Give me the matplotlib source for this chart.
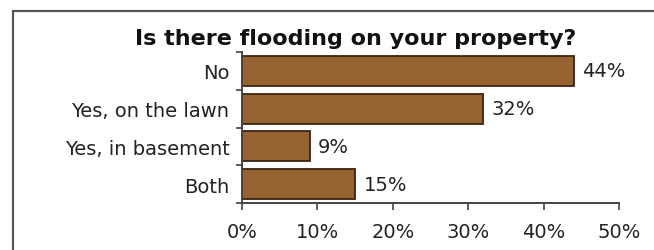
#!/usr/bin/env python3
"""Horizontal bar chart: Is there flooding on your property?"""

import matplotlib

matplotlib.use("Agg")
import matplotlib.pyplot as plt
from matplotlib.patches import Rectangle

TITLE = "Is there flooding on your property?"
CATEGORIES = ["No", "Yes, on the lawn", "Yes, in basement", "Both"]
PERCENTS = [44, 32, 9, 15]
XTICKS = [0, 10, 20, 30, 40, 50]

BAR_COLOR = "#96622F"
EDGE_COLOR = "#3A2414"
TEXT_COLOR = "#222222"
LABEL_SIZE = 14

W, H = 654, 251


def main() -> None:
    plt.rcParams.update({"font.family": "DejaVu Sans", "font.size": 12})
    fig = plt.figure(figsize=(W / 100, H / 100), dpi=100)
    fig.patch.set_facecolor("white")

    # outer frame, cropped at right and bottom edges
    fig.add_artist(
        Rectangle((13 / W, -0.1), 1.2, 1.1 - 12 / H, transform=fig.transFigure,
                  fill=False, edgecolor="#555555", linewidth=1.6)
    )

    ax = fig.add_axes([242 / W, 1 - 204 / H, (619 - 242) / W, (204 - 53) / H])
    y = list(range(len(CATEGORIES)))
    bars = ax.barh(y, PERCENTS, height=0.8, color=BAR_COLOR,
                   edgecolor=EDGE_COLOR, linewidth=1.3)

    ax.set_xlim(0, 50)
    ax.set_ylim(len(CATEGORIES) - 0.5, -0.5)

    ax.set_yticks(y)
    ax.set_yticklabels(CATEGORIES)
    ax.set_yticks([i - 0.5 for i in range(len(CATEGORIES) + 1)], minor=True)
    ax.tick_params(axis="y", which="major", length=0, pad=9, labelsize=LABEL_SIZE,
                   labelcolor=TEXT_COLOR)
    ax.tick_params(axis="y", which="minor", length=4, width=1.2, color="#444444")

    ax.set_xticks(XTICKS)
    ax.set_xticklabels([f"{v}%" for v in XTICKS])
    ax.tick_params(axis="x", length=5, width=1.2, color="#444444", pad=9,
                   labelsize=LABEL_SIZE, labelcolor=TEXT_COLOR)

    for side in ("top", "right"):
        ax.spines[side].set_visible(False)
    for side in ("left", "bottom"):
        ax.spines[side].set_color("#444444")
        ax.spines[side].set_linewidth(1.4)

    for bar, value in zip(bars, PERCENTS):
        ax.annotate(f"{value}%", (bar.get_width(), bar.get_y() + bar.get_height() / 2),
                    xytext=(6, 0), textcoords="offset points", ha="left",
                    va="center", fontsize=LABEL_SIZE, color=TEXT_COLOR)

    fig.text(356 / W, 1 - 39 / H, TITLE, ha="center", va="center",
             fontsize=16, fontweight="bold", color="#111111")

    fig.savefig("out.png", dpi=100)
    plt.close(fig)


if __name__ == "__main__":
    main()
